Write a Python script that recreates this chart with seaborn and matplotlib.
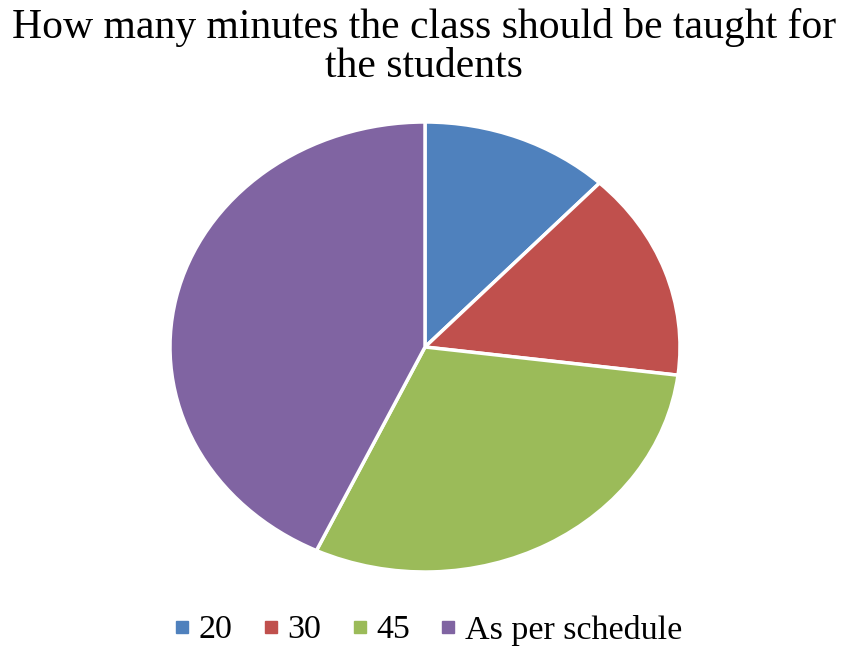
import matplotlib
matplotlib.use("Agg")
import matplotlib.pyplot as plt
import seaborn as sns
from matplotlib.lines import Line2D

# Data
categories = ["20", "30", "45", "As per schedule"]
shares = [12, 15, 30, 43]
colors = ["#4F81BD", "#C0504D", "#9BBB59", "#8064A2"]
title = "How many minutes the class should be taught for\nthe students"

sns.set_theme(style="white")
plt.rcParams["font.family"] = ["Liberation Serif", "DejaVu Serif"]
plt.rcParams["text.color"] = "black"

fig = plt.figure(figsize=(8.51, 6.53), dpi=100)
ax = fig.add_axes([170 / 851, (653 - 572) / 653, 510 / 851, 450 / 653])

ax.pie(shares, colors=colors, startangle=90, counterclock=False,
       wedgeprops=dict(edgecolor="white", linewidth=2.5))
ax.set_aspect("auto")
ax.set_xlim(-1.0, 1.0)
ax.set_ylim(-1.0, 1.0)

fig.text(424 / 851, 1 - 47 / 653, title, ha="center", va="center",
         fontsize=30, linespacing=1.0, color="black")

handles = [Line2D([], [], marker="s", linestyle="", markersize=8,
                  markerfacecolor=c, markeredgecolor=c) for c in colors]
fig.legend(handles, categories, loc="center", bbox_to_anchor=(428 / 851, 1 - 630 / 653),
           ncol=4, frameon=False, fontsize=24.5, handletextpad=0.24,
           columnspacing=0.87, handlelength=0.5, labelcolor="black")

fig.savefig("out.png", dpi=100, facecolor="white")
